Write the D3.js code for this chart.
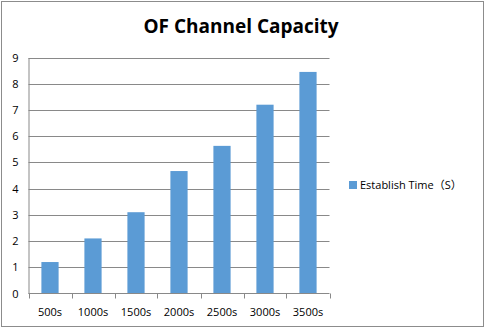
<!DOCTYPE html>
<html>
<head>
<meta charset="utf-8">
<script src="https://cdn.jsdelivr.net/npm/d3@7"></script>
<style>
  html, body { margin: 0; padding: 0; background: #fff; }
  svg { display: block; }
</style>
</head>
<body>
<svg id="chart" width="486" height="329"></svg>
<script>
const categories = ["500s", "1000s", "1500s", "2000s", "2500s", "3000s", "3500s"];
const establishTime = [1.2, 2.1, 3.1, 4.67, 5.63, 7.2, 8.45];
const yTicks = [0, 1, 2, 3, 4, 5, 6, 7, 8, 9];
const seriesName = "Establish Time（S）";
const chartTitle = "OF Channel Capacity";

const svg = d3.select("#chart");
const font = "Open Sans, 'Noto Sans CJK SC', Liberation Sans, sans-serif";
const plot = { left: 28.5, right: 329.5, top: 57.5, bottom: 293.5 };

// outer frame
svg.append("rect")
  .attr("x", 1.5).attr("y", 1.5)
  .attr("width", 482).attr("height", 325)
  .attr("fill", "#fff").attr("stroke", "#8c8c8c").attr("stroke-width", 1);

const x = d3.scaleBand().domain(categories).range([plot.left, plot.right]).paddingInner(0.6).paddingOuter(0.3);
const xEdges = d3.scaleLinear().domain([0, categories.length]).range([plot.left, plot.right]);
const y = d3.scaleLinear().domain([0, 9]).range([plot.bottom, plot.top]);

// horizontal gridlines
svg.append("g").selectAll("line").data(yTicks.filter(d => d > 0)).join("line")
  .attr("x1", plot.left).attr("x2", plot.right)
  .attr("y1", d => Math.round(y(d)) + 0.5).attr("y2", d => Math.round(y(d)) + 0.5)
  .attr("stroke", "#898989").attr("stroke-width", 1);

// bars
svg.append("g").selectAll("rect").data(establishTime).join("rect")
  .attr("x", (d, i) => x(categories[i]))
  .attr("width", x.bandwidth())
  .attr("y", d => y(d))
  .attr("height", d => y(0) - y(d))
  .attr("fill", "#5b9bd5");

// y axis
const yAxis = svg.append("g").attr("transform", `translate(${plot.left},0)`)
  .call(d3.axisLeft(y).tickValues(yTicks).tickSize(0).tickPadding(10));
yAxis.select(".domain").attr("stroke", "#898989");
yAxis.selectAll("text").attr("font-family", font).attr("font-size", 11).attr("fill", "#000");

// x axis baseline with ticks between categories
const xAxis = svg.append("g").attr("transform", `translate(0,${plot.bottom})`);
xAxis.append("line").attr("x1", plot.left).attr("x2", plot.right)
  .attr("stroke", "#898989");
xAxis.selectAll("line.tick").data(d3.range(categories.length + 1)).join("line")
  .attr("class", "tick")
  .attr("x1", d => Math.round(xEdges(d)) + 0.5).attr("x2", d => Math.round(xEdges(d)) + 0.5)
  .attr("y1", 0).attr("y2", 5)
  .attr("stroke", "#898989");
xAxis.selectAll("text").data(categories).join("text")
  .attr("x", (d, i) => (xEdges(i) + xEdges(i + 1)) / 2)
  .attr("y", 22)
  .attr("text-anchor", "middle")
  .attr("font-family", font).attr("font-size", 11).attr("fill", "#000")
  .text(d => d);

// title
svg.append("text")
  .attr("x", 241).attr("y", 33)
  .attr("text-anchor", "middle")
  .attr("font-family", font).attr("font-weight", "bold").attr("font-size", 19)
  .attr("fill", "#000")
  .text(chartTitle);

// legend
const legend = svg.append("g").attr("transform", "translate(349,181)");
legend.append("rect").attr("width", 8).attr("height", 8).attr("fill", "#5b9bd5");
legend.append("text").attr("x", 11).attr("y", 7.5)
  .attr("font-family", font).attr("font-size", 11).attr("fill", "#000")
  .text(seriesName);
</script>
</body>
</html>
